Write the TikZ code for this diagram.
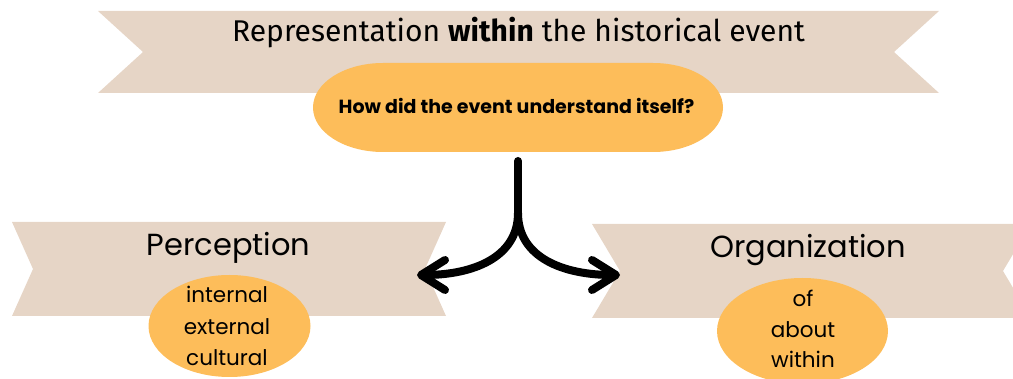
\documentclass[tikz,border=0pt]{standalone}
\usepackage{fontspec}
\setmainfont{Poppins}
\newfontfamily\titlefont{Fira Sans}
\usetikzlibrary{arrows.meta,shapes.geometric}
\definecolor{ribbon}{HTML}{E6D5C6}
\definecolor{pill}{HTML}{FDBD5A}
\begin{document}
\begin{tikzpicture}[x=1pt,y=-1pt,
  ribbonshape/.style={fill=ribbon},
  pillshape/.style={fill=pill},
  smallpill/.style={ellipse,fill=pill,inner sep=0pt,minimum width=162pt,minimum height=102pt},
  label/.style={inner sep=0pt,anchor=base},
  heading/.style={label,font=\fontsize{30.5}{36}\selectfont},
  listitem/.style={label,font=\fontsize{21.5}{26}\selectfont},
  stem/.style={line width=8pt,line cap=round,line join=round},
  branch/.style={stem,-{Straight Barb[length=24pt,width=30pt,line cap=round,line join=round]}}]
\useasboundingbox (0,0) rectangle (1013,379);
\clip (0,0) rectangle (1013,379);

% ribbons with notched ends
\fill[ribbonshape] (98,11) -- (939,11) -- (894,52) -- (939,93) -- (98,93) -- (143,52) -- cycle;
\fill[ribbonshape] (12,222) -- (446,222) -- (425,269) -- (446,316) -- (12,316) -- (33,269) -- cycle;
\fill[ribbonshape] (592,224) -- (1031,224) -- (1003,271) -- (1031,318) -- (592,318) -- (620,271) -- cycle;

\node[label,font=\titlefont\fontsize{30}{36}\selectfont] (title) at (518.5,42)
  {Representation \textbf{within} the historical event};

% central question pill
\fill[pillshape] (383,63) -- (653,63)
  arc[start angle=-90,end angle=90,x radius=70,y radius=44.5]
  -- (383,152)
  arc[start angle=90,end angle=270,x radius=70,y radius=44.5] -- cycle;
\node[label,font=\fontsize{19}{24}\selectfont\bfseries] (question) at (516.5,114)
  {How did the event understand itself?};

% side headings and their pills
\node[heading] (perception) at (228.5,256) {Perception};
\node[heading] (organization) at (808,258) {Organization};

\node[smallpill] (perceptionpill) at (229.5,326) {};
\node[listitem] (internal) at (227,303) {internal};
\node[listitem] (external) at (227,335) {external};
\node[listitem] (cultural) at (227,366) {cultural};

\node[smallpill,minimum width=171pt,minimum height=106pt] (organizationpill) at (802.5,331) {};
\node[listitem] (of) at (803,307) {of};
\node[listitem] (about) at (803,338) {about};
\node[listitem] (within) at (803,368) {within};

% forked arrow
\coordinate (stemtop) at (518,161);
\coordinate (fork) at (518,213);
\coordinate (lefttip) at (417,275);
\coordinate (righttip) at (620,275);
\draw[stem] (stemtop) -- (fork);
\draw[branch] (fork) .. controls (518,258) and (472,275) .. (lefttip);
\draw[branch] (fork) .. controls (518,258) and (564,275) .. (righttip);
\end{tikzpicture}
\end{document}
